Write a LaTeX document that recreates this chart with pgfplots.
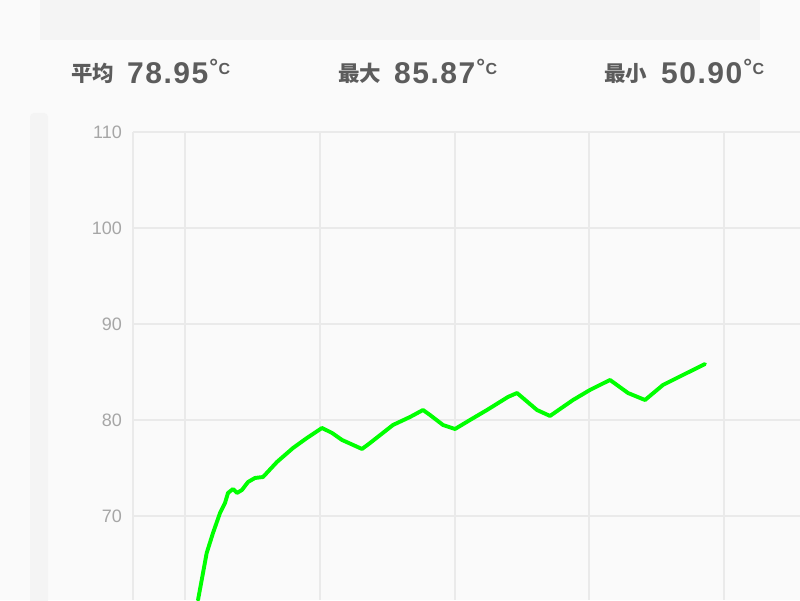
\documentclass[border=0pt]{standalone}
\usepackage{fontspec}
\setmainfont{Liberation Sans}
\newfontfamily\cjk{Noto Sans CJK SC}
\newfontfamily\numfont{Liberation Sans}[LetterSpace=5]
\usepackage{pgfplots}
\pgfplotsset{compat=1.18}

\definecolor{bg}{HTML}{FAFAFA}
\definecolor{panel}{HTML}{F4F4F4}
\definecolor{gridc}{HTML}{EAEAEA}
\definecolor{txt}{HTML}{5C5C5C}
\definecolor{tickc}{HTML}{A6A6A6}
\definecolor{temp}{HTML}{00FF00}

% temperature trace (x = horizontal position, y = deg C)
\pgfplotstableread{
x     t
198   61.25
201.7 63.33
206.7 66.15
213   68.23
220   70.31
225   71.35
228   72.40
233   72.81
237   72.40
242   72.71
248   73.54
255   73.96
263   74.06
277   75.63
293   77.08
307   78.13
322   79.17
332   78.65
342   77.92
362   76.98
370   77.60
393   79.48
410   80.31
423   81.04
430   80.52
443   79.48
455   79.06
470   80.00
487   81.04
508   82.40
517   82.81
537   81.04
550   80.42
573   82.08
590   83.13
610   84.17
628   82.81
645   82.08
663   83.65
687   84.90
705   85.83
}\temptable

\begin{document}
\begin{tikzpicture}[x=1pt,y=1pt]
\useasboundingbox (0,0) rectangle (800,600);
\fill[bg] (0,0) rectangle (800,600);
\fill[panel] (40,560) rectangle (760,600);
\fill[panel, rounded corners=4pt] (30,-10) rectangle (48,487);

% stats row
\def\statnum#1{{\numfont\bfseries\fontsize{30}{30}\selectfont #1}}
\def\unit{\hspace{1pt}\raisebox{9.5pt}{\bfseries{\fontsize{22}{22}\selectfont °}\hspace{0.5pt}{\fontsize{16}{16}\selectfont C}}}
\tikzset{cjklab/.style={anchor=base west, inner sep=0pt, text=txt, font=\cjk\bfseries\fontsize{21.5}{21.5}\selectfont}}
\node[cjklab] at (71,518.5) {平均};
\node[anchor=base west, inner sep=0pt, text=txt] at (127,516) {\statnum{78.95}\unit};
\node[cjklab] at (338,518.5) {最大};
\node[anchor=base west, inner sep=0pt, text=txt] at (394,516) {\statnum{85.87}\unit};
\node[cjklab] at (604,518.5) {最小};
\node[anchor=base west, inner sep=0pt, text=txt] at (661,516) {\statnum{50.90}\unit};

\begin{axis}[
  at={(133,0)}, anchor=south west,
  scale only axis, width=667pt, height=468pt,
  xmin=133, xmax=800, ymin=61.25, ymax=110,
  axis line style={draw=none},
  tick style={draw=none},
  xtick={133,185,320,455,589,724}, xticklabels={},
  ytick={70,80,90,100,110},
  grid=major,
  major grid style={gridc, line width=1.6pt},
  yticklabel style={anchor=east, inner sep=0pt, xshift=-11pt, text=tickc, font=\fontsize{18}{18}\selectfont},
  /pgf/number format/assume math mode=true,
  clip=true,
]
\addplot[temp, line width=3.9pt, line join=round, line cap=round] table[x=x, y=t] {\temptable};
\end{axis}
\end{tikzpicture}
\end{document}
